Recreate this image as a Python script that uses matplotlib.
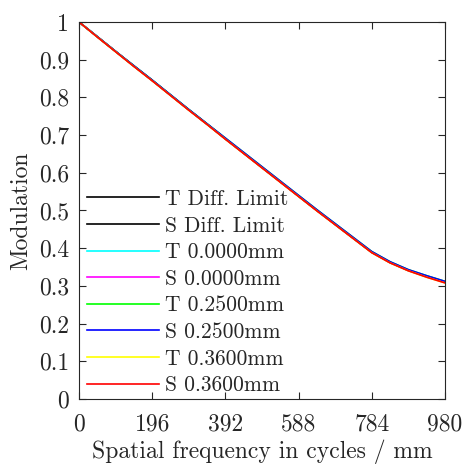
import matplotlib
matplotlib.use("Agg")
import matplotlib.pyplot as plt
import numpy as np

plt.rcParams['font.family'] = ['cmr10', 'DejaVu Serif']
plt.rcParams['mathtext.fontset'] = 'cm'
plt.rcParams['axes.unicode_minus'] = False

# Spatial frequency samples (cycles/mm)
freq = [0, 49, 98, 147, 196, 245, 294, 343, 392, 441, 490, 539, 588,
        637, 686, 735, 784, 833, 882, 931, 980]

# MTF values per field / orientation
t_diff = [1.000, 0.961, 0.922, 0.883, 0.845, 0.806, 0.767, 0.729, 0.690, 0.652,
          0.614, 0.576, 0.538, 0.500, 0.463, 0.426, 0.389, 0.362, 0.341, 0.325, 0.310]
s_diff = list(t_diff)
t_000 = list(t_diff)
s_000 = list(t_diff)
t_025 = [1.000, 0.961, 0.922, 0.884, 0.846, 0.807, 0.768, 0.730, 0.692, 0.654,
         0.616, 0.578, 0.540, 0.502, 0.465, 0.428, 0.391, 0.364, 0.343, 0.327, 0.312]
s_025 = list(t_025)
t_036 = [1.000, 0.960, 0.921, 0.882, 0.844, 0.805, 0.766, 0.728, 0.689, 0.651,
         0.613, 0.575, 0.537, 0.499, 0.462, 0.425, 0.388, 0.361, 0.340, 0.323, 0.308]
s_036 = list(t_036)

labels = ['T Diff. Limit', 'S Diff. Limit', 'T 0.0000mm', 'S 0.0000mm',
          'T 0.2500mm', 'S 0.2500mm', 'T 0.3600mm', 'S 0.3600mm']
series = [t_diff, s_diff, t_000, s_000, t_025, s_025, t_036, s_036]
colors = ['black', 'black', 'cyan', 'magenta', '#00ff00', 'blue', 'yellow', 'red']

xticks = [0, 196, 392, 588, 784, 980]
yticks = [0, 0.1, 0.2, 0.3, 0.4, 0.5, 0.6, 0.7, 0.8, 0.9, 1.0]
ytick_labels = ['0', '0.1', '0.2', '0.3', '0.4', '0.5', '0.6', '0.7', '0.8', '0.9', '1']

fig = plt.figure(figsize=(4.62, 4.65), dpi=100)
ax = fig.add_axes([79 / 462, 66 / 465, 366 / 462, 377 / 465])

for y, c, lab in zip(series, colors, labels):
    ax.plot(freq, y, color=c, lw=1.2, label=lab)

ax.set_xlim(0, 980)
ax.set_ylim(0, 1)
ax.set_xticks(xticks)
ax.set_xticklabels([str(v) for v in xticks])
ax.set_yticks(yticks)
ax.set_yticklabels(ytick_labels)
ax.tick_params(direction='in', top=True, right=True, length=5, width=0.8,
               labelsize=17, colors='#262626')
ax.tick_params(axis='x', pad=10)
ax.tick_params(axis='y', pad=7)
for s in ax.spines.values():
    s.set_color('#262626')
    s.set_linewidth(0.8)

ax.set_xlabel('Spatial frequency in cycles / mm', fontsize=17, color='#262626', labelpad=3)
ax.set_ylabel('Modulation', fontsize=17, color='#262626', labelpad=5)

leg = ax.legend(loc='lower left', bbox_to_anchor=(-0.018, -0.03), frameon=False,
                fontsize=15.5, handlelength=3.3, handletextpad=0.28,
                labelspacing=0.33, borderaxespad=0.3)
for t in leg.get_texts():
    t.set_color('#262626')

fig.savefig('out.png', dpi=100)
